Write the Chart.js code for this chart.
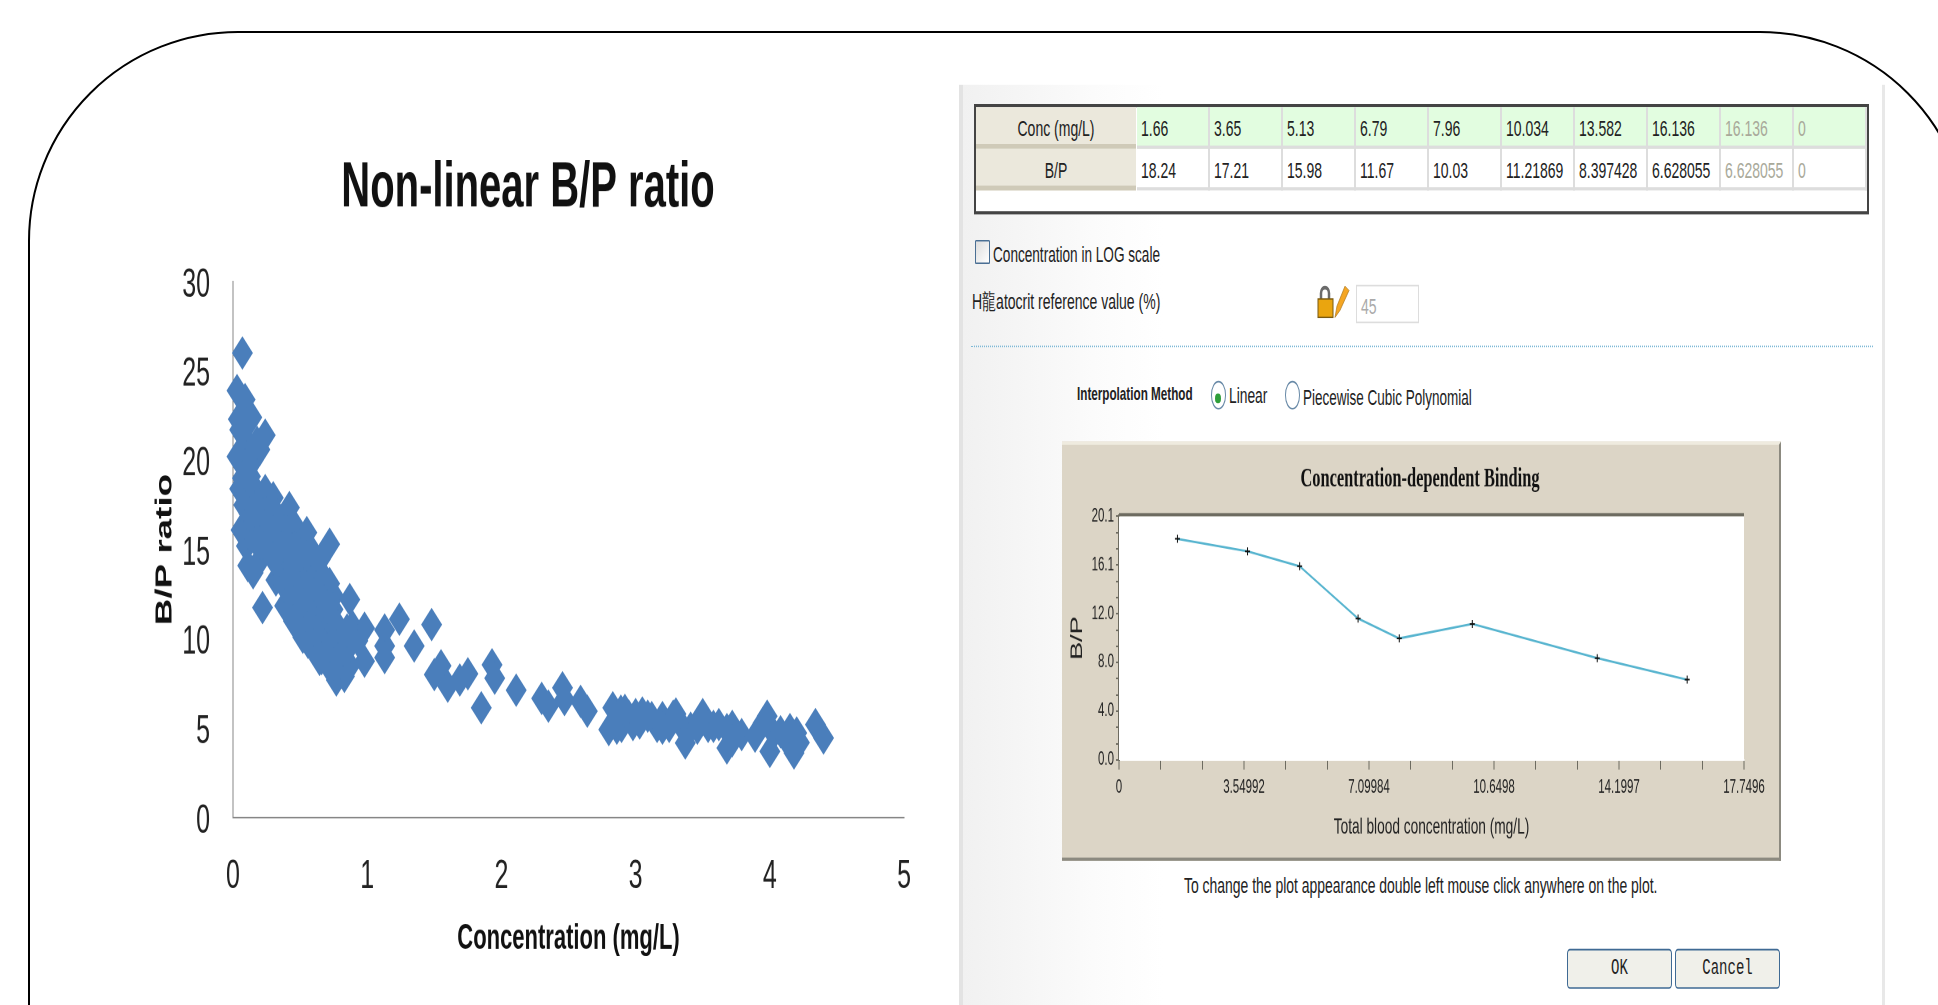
<!DOCTYPE html>
<html>
<head>
<meta charset="utf-8">
<script src="https://cdn.jsdelivr.net/npm/chart.js@4"></script>
<style>
html,body{margin:0;padding:0;background:#fff;width:1938px;height:1005px;overflow:hidden;}
#frame{position:absolute;left:28px;top:31px;width:1942px;height:1200px;border:2px solid #000;border-radius:210px;box-sizing:border-box;}
#stage{position:absolute;left:0;top:0;width:1938px;height:630px;transform-origin:0 0;transform:scaleY(1.6);font-family:"Liberation Sans",sans-serif;color:#222;}
#stage div,#stage canvas,#stage svg{position:absolute;box-sizing:border-box;}
.lbl{white-space:nowrap;line-height:1.2;}
.cell{border-right:2px solid #ddd;border-bottom:2px solid #ddd;padding-left:4px;font-size:14px;white-space:nowrap;}
.head{background:#ebe8dc;border-bottom:3px solid #cfcab8;text-align:center;font-size:14px;}
.btn{background:#f0f0ea;border:1.5px solid #3f6a94;border-radius:3px;text-align:center;font-family:"Liberation Mono",monospace;font-size:14px;color:#222;}
</style>
</head>
<body>
<div id="frame"></div>
<div id="stage">
  <canvas id="scatterChart" width="782" height="541"></canvas>
  <div id="panel"></div>
</div>
<script>
// scatter on the left
const concVals = [.07,.03,.09,.04,.14,.05,.24,.12,.2,.03,.09,.13,.05,.1,.17,.24,.2,.3,.42,.28,.06,.13,.22,.35,.47,.55,.1,.16,.25,.31,.4,.5,.72,.11,.15,.2,.35,.45,.55,.65,.32,.42,.52,.6,.72,.22,.385,.42,.5,.58,.65,.75,.87,.47,.55,.62,.745,.68,.5,.52,.56,.6,.66,.72,.8,.89,.98,.93,.62,.645,.7,.76,.85,.72,.77,.83,.87,.98,1.13,1.24,1.13,1.13,1.35,1.48,1.55,1.5,1.6,1.69,1.75,1.93,1.95,1.85,2.11,2.3,2.35,2.455,2.47,2.59,2.64,2.83,2.8,2.86,2.89,2.895,2.95,3.0,3.05,3.09,3.16,3.2,3.28,3.33,3.37,3.41,3.46,3.5,3.54,3.58,3.68,3.68,3.79,3.89,3.98,4.0,4.03,4.15,4.18,4.2,4.34,4.4,
	.15,.25,.33,.38,.3,.2,.36,.44,.3,.38,.46,.45,.6,.5,.58,.62,.68,.55,.52,.6,.68,.7,.55,.62,.6,.68,.75,.72,.66,.75,.8,.82,.78,.85,.45,.14,.07,.15,.1,.18,.12,.08,.16,
	2.86,2.92,2.98,3.03,3.12,3.2,3.25,3.3,3.47,3.62,3.72,3.72,3.95,4.08,4.12,4.22];
const bpVals = [26.0,23.9,23.4,22.3,22.4,21.7,21.4,20.8,20.6,20.2,19.7,19.1,18.4,18.2,18.3,18.3,17.5,17.9,17.35,16.9,16.1,16.6,16.4,16.5,16.2,15.95,15.2,15.6,15.4,15.3,15.5,15.2,15.3,14.1,13.7,14.4,14.4,14.3,14.6,14.45,13.3,13.5,13.6,13.4,13.1,11.75,11.85,12.6,12.5,12.4,12.7,12.4,12.2,11.5,11.3,11.7,11.65,11,10.9,10.1,9.8,10.6,10,10.6,10.3,10.7,10.6,9.9,9.2,8.85,9.4,9.1,9.4,8.4,7.7,7.9,8.5,8.75,10.5,11.1,9.6,8.95,9.6,10.8,8.5,8.0,7.35,7.7,8.05,8.55,7.8,6.15,7.13,6.67,6.24,7.26,6.6,6.5,5.96,6.14,4.93,5.6,5.96,5.1,5.68,5.77,5.86,5.68,5.1,5.6,5.68,5.3,4.18,5.0,5.0,5.77,5.1,5.1,4.93,3.9,4.65,4.56,5.68,3.7,4.7,4.93,3.62,4.74,5.2,4.46,
	17,17,16.9,16,16,15.4,15.1,15,14.5,13,12.8,13.9,14,14.7,15,12.9,13.4,12.9,11.9,11.2,12.1,11.8,10.6,10.4,9.6,9.6,9.9,9.5,8.9,8.6,8.7,9.4,10.7,10.5,11,19.9,19,20,22,21,17,17.5,17.2,
	5,6,5.2,5.3,5.6,5,5.1,5.8,5.3,5.2,5.1,4.3,5.3,4.8,4.4,4.2];

// values typed in the table, also the line of the small plot
const tableHeads = ['Conc (mg/L)','B/P'];
const tableConc = ['1.66','3.65','5.13','6.79','7.96','10.034','13.582','16.136','16.136','0'];
const tableBp = ['18.24','17.21','15.98','11.67','10.03','11.21869','8.397428','6.628055','6.628055','0'];
const plotConc = [1.66,3.65,5.13,6.79,7.96,10.034,13.582,16.136];
const plotBp = [18.24,17.21,15.98,11.67,10.03,11.21869,8.397428,6.628055];
const xTickLabels = ['0','3.54992','7.09984','10.6498','14.1997','17.7496'];
const yTickLabels = ['0.0','4.0','8.0','12.0','16.1','20.1'];

const K = 1.6; // the whole picture is stretched upright by this
const narrow = '"Liberation Sans Narrow","Liberation Sans",sans-serif';

const stage = document.getElementById('stage');
function put(parent, x, y, w, h, cls, text){
	const d = document.createElement('div');
	d.style.left = x + 'px';
	d.style.top = (y / K) + 'px';
	if(w) d.style.width = w + 'px';
	if(h){
		d.style.height = (h / K) + 'px';
		d.style.lineHeight = (h / K) + 'px';
	}
	if(cls) d.className = cls;
	if(text !== undefined) d.textContent = text;
	parent.appendChild(d);
	return d;
}
function label(text, x, cy, size, extra){
	const d = put(stage, x, cy - size * 0.6 * K, 0, 0, 'lbl', text);
	d.style.fontSize = size + 'px';
	if(extra) Object.assign(d.style, extra);
	return d;
}

// placing of the left canvas
const sc = document.getElementById('scatterChart');
sc.style.left = '143px';
sc.style.top = (130 / K) + 'px';

new Chart(sc, {
	type: 'scatter',
	data: {datasets: [{
		data: concVals.map((c, i) => ({x: c, y: bpVals[i]})),
		clip: false,
		pointStyle: 'rectRot',
		pointRadius: 10.5,
		pointBackgroundColor: '#4a7ebb',
		pointBorderWidth: 0
	}]},
	options: {
		responsive: false,
		animation: false,
		devicePixelRatio: 2,
		layout: {padding: {right: 12}},
		plugins: {
			legend: {display: false},
			tooltip: {enabled: false},
			title: {display: true, text: 'Non-linear B/P ratio', color: '#111',
				font: {family: narrow, size: 40, weight: 'bold'},
				padding: {top: 13, bottom: 34}}
		},
		scales: {
			x: {
				type: 'linear', min: 0, max: 5,
				afterFit: (s) => { s.height = 111; },
				grid: {display: false},
				border: {color: '#868686'},
				ticks: {stepSize: 1, color: '#222', padding: 14, font: {family: narrow, size: 25}},
				title: {display: true, text: 'Concentration (mg/L)', color: '#111',
					font: {family: narrow, size: 22, weight: 'bold'}, padding: {top: 22, bottom: 22}}
			},
			y: {
				min: 0, max: 30,
				afterFit: (s) => { s.width = 90; },
				grid: {display: false},
				border: {color: '#868686'},
				// blank first line with a tiny line height drops the digits a little onto their tick
				ticks: {stepSize: 5, color: '#222', padding: 15,
					font: {family: narrow, size: 25, lineHeight: 0.2},
					callback: (v) => ['', String(v)]},
				title: {display: true, text: 'B/P ratio', color: '#111',
					font: {family: '"Liberation Sans",sans-serif', size: 23, weight: 'bold'}, padding: {top: 8.5, bottom: 8.5}}
			}
		}
	}
});

// dialog behind the small plot
const panel = document.getElementById('panel');
panel.style.cssText = 'left:959px;top:' + (84 / K) + 'px;width:926px;height:' + (930 / K) + 'px;background:linear-gradient(90deg,#f1f1f1 0,#fbfbfb 130px,#fff 200px);border-left:4px solid #e3e3e3;border-right:3px solid #e8e8e8;';

// table
put(stage, 974, 104, 895, 110, '', '').style.cssText += 'border:2px solid #444;background:#fff;';
tableHeads.forEach((h, r) => {
	const top = r === 0 ? 107 : 149;
	const ht = 42;
	put(stage, 976, top, 160, ht, 'head', h);
	(r === 0 ? tableConc : tableBp).forEach((v, i) => {
		const c = put(stage, 1137 + i * 73, top, i === 9 ? 730 - 9 * 73 : 73, ht, 'cell', v);
		if(r === 0) c.style.background = '#e2fde0';
		if(i === 8 || i === 9) c.style.color = '#a9a99a';
	});
});

// controls
const box = put(stage, 975, 240, 15, 24);
box.style.cssText += 'border:1.5px solid #4a6f94;background:linear-gradient(135deg,#ddd,#fff);border-radius:1px;';
label('Concentration in LOG scale', 993, 256, 13.6);
label('H\u9F8Datocrit reference value (%)', 972, 301, 14);
const lock = document.createElementNS('http://www.w3.org/2000/svg', 'svg');
lock.setAttribute('viewBox', '0 0 33 24');
lock.setAttribute('preserveAspectRatio', 'none');
lock.style.cssText = 'left:1317px;top:' + (284 / K) + 'px;width:33px;height:' + (34 / K) + 'px;';
lock.innerHTML = '<path d="M4 10V6a4 4 0 0 1 8 0v4" fill="none" stroke="#6b6b6b" stroke-width="2.5"/><rect x="1" y="10" width="15" height="13" fill="#eaa50f" stroke="#7a5a10"/><path d="M18 23l2-8L28 1l4 3-9 14z" fill="#f5a623" stroke="#b07a20" stroke-width=".6"/>';
stage.appendChild(lock);
const inp = put(stage, 1356, 284, 63, 39, 'lbl', '45');
inp.style.cssText += 'border:1.5px solid #ddd;background:#fff;color:#aaa;font-size:14px;padding-left:4px;';
put(stage, 971, 345, 902, 2).style.cssText += 'border-top:1px dotted #7fb9d6;';

label('Interpolation Method', 1077, 394, 11.7, {fontWeight: 'bold'});
function radio(x, on){
	const r = put(stage, x, 381, 15, 28);
	r.style.cssText += 'border:1.5px solid #6a8ba8;border-radius:50%;background:#fff;';
	if(on){
		const dot = put(r, 3, 11, 6, 10);
		dot.style.cssText += 'background:#2f9e3a;border-radius:50%;';
	}
}
radio(1211, true);
label('Linear', 1229, 398, 13.8);
radio(1285, false);
label('Piecewise Cubic Polynomial', 1303, 398, 13.5);

// small plot in the beige box
const beige = put(stage, 1062, 441, 719, 420);
beige.style.cssText += 'background:#dcd5c6;border-top:2px solid #efebdf;border-right:2px solid #8c8a80;border-bottom:2px solid #8c8a80;';
const pc = document.createElement('canvas');
pc.width = 716;
pc.height = 262;
pc.style.left = '1062px';
pc.style.top = (441 / K) + 'px';
stage.appendChild(pc);

const plotFrame = {
	id: 'plotFrame',
	beforeDatasetsDraw(chart){
		const {ctx, chartArea: a} = chart;
		ctx.save();
		ctx.fillStyle = '#fff';
		ctx.fillRect(a.left, a.top, a.width, a.height);
		ctx.fillStyle = '#6d6b60';
		ctx.fillRect(a.left, a.top - 2, a.width, 2);
		ctx.restore();
	}
};
function evenTicks(max){
	return (s) => {
		s.ticks = [];
		for(let i = 0; i <= 15; i++) s.ticks.push({value: max * i / 15});
	};
}
new Chart(pc, {
	type: 'scatter',
	data: {datasets: [{
		data: plotConc.map((c, i) => ({x: c, y: plotBp[i]})),
		showLine: true,
		borderColor: '#56b4cf',
		borderWidth: 1.4,
		pointStyle: 'cross',
		pointRadius: 2.5,
		pointBorderColor: '#111',
		pointBorderWidth: 1
	}]},
	options: {
		responsive: false,
		animation: false,
		devicePixelRatio: 2,
		plugins: {
			legend: {display: false},
			tooltip: {enabled: false},
			title: {display: true, text: 'Concentration-dependent Binding', color: '#111',
				font: {family: '"Liberation Serif",serif', size: 16.4, weight: 'bold'},
				padding: {top: 14, bottom: 13}}
		},
		scales: {
			x: {
				type: 'linear', min: 0, max: 17.7496,
				afterBuildTicks: evenTicks(17.7496),
				afterFit: (s) => { s.height = 262 - 199; },
				grid: {drawOnChartArea: false, color: '#6d6b60', tickLength: 6},
				border: {color: '#fff'},
				ticks: {autoSkip: false, maxRotation: 0, color: '#222', padding: 4.5,
					font: {family: '"Liberation Sans",sans-serif', size: 11.5},
					callback: (v, i) => i % 3 === 0 ? xTickLabels[i / 3] : ''},
				title: {display: true, text: 'Total blood concentration (mg/L)', color: '#222',
					font: {family: '"Liberation Sans",sans-serif', size: 13.7}, padding: {top: 12.5, bottom: 12.5}}
			},
			y: {
				min: 0, max: 20.1,
				afterBuildTicks: evenTicks(20.1),
				afterFit: (s) => { s.width = 57; },
				grid: {drawOnChartArea: false, color: '#6d6b60', tickLength: 3},
				border: {color: '#6d6b60', width: 2},
				ticks: {autoSkip: false, color: '#222', padding: 2,
					font: {family: '"Liberation Sans",sans-serif', size: 11.5},
					callback: (v, i) => i % 3 === 0 ? yTickLabels[i / 3] : ''},
				title: {display: true, text: 'B/P', color: '#222',
					font: {family: '"Liberation Sans",sans-serif', size: 17}, padding: {top: 5, bottom: 5}}
			},
			// empty axis, only keeps the plot clear of the right side of the box
			spare: {
				position: 'right',
				display: true,
				min: 0, max: 1,
				afterFit: (s) => { s.width = 34; },
				grid: {display: false},
				border: {display: false},
				ticks: {display: false}
			}
		}
	},
	plugins: [plotFrame]
});

label('To change the plot appearance double left mouse click anywhere on the plot.', 1184, 886, 13.95);
put(stage, 1567, 948, 105, 41, 'btn', 'OK').style.lineHeight = (36 / K) + 'px';
put(stage, 1675, 948, 105, 41, 'btn', 'Cancel').style.lineHeight = (36 / K) + 'px';
</script>
</body>
</html>
